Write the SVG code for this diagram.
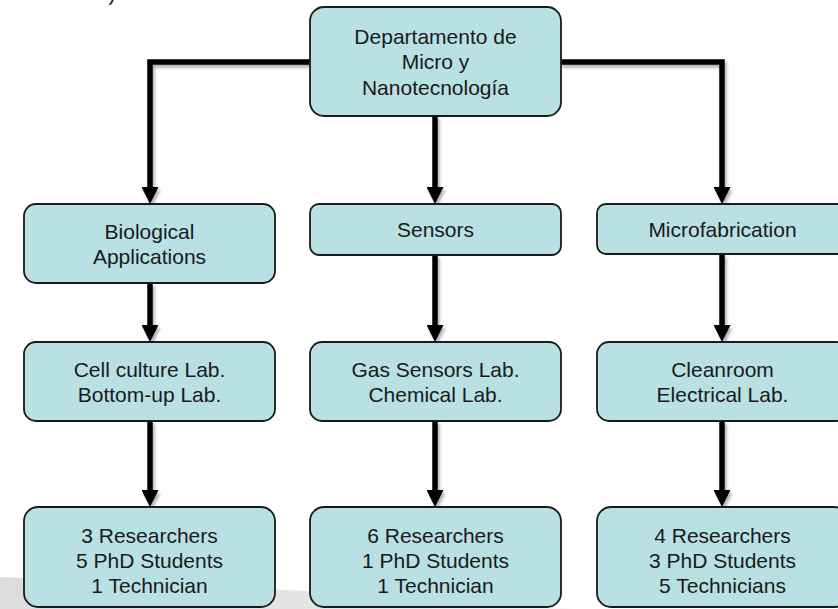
<svg xmlns="http://www.w3.org/2000/svg" width="838" height="609" viewBox="0 0 838 609">
  <style>
    .box { fill: #b9e0e3; stroke: #1a1a1a; stroke-width: 1.8; }
    .lbl { font-family: "Liberation Sans", Arial, sans-serif; font-size: 21px; fill: #1a1a1a; text-anchor: middle; }
    .conn { fill: none; stroke: #000; stroke-width: 5.5; stroke-linejoin: miter; }
  </style>
  <defs>
    <marker id="arr" viewBox="0 0 17 17" markerUnits="userSpaceOnUse" markerWidth="17" markerHeight="17" refX="5" refY="8.5" orient="auto">
      <path d="M0,0 L17,8.5 L0,17 Z" fill="#000"/>
    </marker>
    <filter id="sh" x="-20%" y="-20%" width="140%" height="140%">
      <feDropShadow dx="2" dy="3" stdDeviation="1.6" flood-color="#000" flood-opacity="0.3"/>
    </filter>
    <linearGradient id="sw" x1="0" y1="0" x2="1" y2="0">
      <stop offset="0" stop-color="#dcdcdc"/>
      <stop offset="0.7" stop-color="#e8e8e8"/>
      <stop offset="1" stop-color="#f6f6f6"/>
    </linearGradient>
  </defs>

  <rect width="838" height="609" fill="#fff"/>
  <path d="M0,577 Q300,588 575,609 L0,609 Z" fill="url(#sw)"/>
  <text class="lbl" x="112" y="0.5">)</text>

  <g id="connectors" filter="url(#sh)">
    <path class="conn" d="M311,62 H150 V192" marker-end="url(#arr)"/>
    <path class="conn" d="M560,62 H722 V192" marker-end="url(#arr)"/>
    <path class="conn" d="M435,116 V192" marker-end="url(#arr)"/>
    <path class="conn" d="M150,283 V330" marker-end="url(#arr)"/>
    <path class="conn" d="M435,255 V330" marker-end="url(#arr)"/>
    <path class="conn" d="M722,254 V330" marker-end="url(#arr)"/>
    <path class="conn" d="M150,421 V495" marker-end="url(#arr)"/>
    <path class="conn" d="M435,421 V495" marker-end="url(#arr)"/>
    <path class="conn" d="M722,421 V495" marker-end="url(#arr)"/>
  </g>

  <g id="dept">
    <rect class="box" x="310" y="7" width="251" height="109" rx="14"/>
    <text class="lbl" x="435.5" y="43.5">Departamento de</text>
    <text class="lbl" x="435.5" y="69">Micro y</text>
    <text class="lbl" x="435.5" y="94.5">Nanotecnología</text>
  </g>

  <g id="bio">
    <rect class="box" x="24" y="204" width="251" height="79" rx="12"/>
    <text class="lbl" x="149.5" y="239">Biological</text>
    <text class="lbl" x="149.5" y="264">Applications</text>
  </g>
  <g id="sensors">
    <rect class="box" x="310" y="204" width="251" height="51" rx="9"/>
    <text class="lbl" x="435.5" y="237">Sensors</text>
  </g>
  <g id="microfab">
    <rect class="box" x="597" y="204" width="251" height="50" rx="9"/>
    <text class="lbl" x="722.5" y="237">Microfabrication</text>
  </g>

  <g id="bio-labs">
    <rect class="box" x="24" y="342" width="251" height="79" rx="12"/>
    <text class="lbl" x="149.5" y="377">Cell culture Lab.</text>
    <text class="lbl" x="149.5" y="402">Bottom-up Lab.</text>
  </g>
  <g id="sensor-labs">
    <rect class="box" x="310" y="342" width="251" height="79" rx="12"/>
    <text class="lbl" x="435.5" y="377">Gas Sensors Lab.</text>
    <text class="lbl" x="435.5" y="402">Chemical Lab.</text>
  </g>
  <g id="microfab-labs">
    <rect class="box" x="597" y="342" width="251" height="79" rx="12"/>
    <text class="lbl" x="722.5" y="377">Cleanroom</text>
    <text class="lbl" x="722.5" y="402">Electrical Lab.</text>
  </g>

  <g id="bio-staff">
    <rect class="box" x="24" y="507" width="251" height="100" rx="14"/>
    <text class="lbl" x="149.5" y="543">3 Researchers</text>
    <text class="lbl" x="149.5" y="568">5 PhD Students</text>
    <text class="lbl" x="149.5" y="593">1 Technician</text>
  </g>
  <g id="sensor-staff">
    <rect class="box" x="310" y="507" width="251" height="100" rx="14"/>
    <text class="lbl" x="435.5" y="543">6 Researchers</text>
    <text class="lbl" x="435.5" y="568">1 PhD Students</text>
    <text class="lbl" x="435.5" y="593">1 Technician</text>
  </g>
  <g id="microfab-staff">
    <rect class="box" x="597" y="507" width="251" height="100" rx="14"/>
    <text class="lbl" x="722.5" y="543">4 Researchers</text>
    <text class="lbl" x="722.5" y="568">3 PhD Students</text>
    <text class="lbl" x="722.5" y="593">5 Technicians</text>
  </g>
</svg>
